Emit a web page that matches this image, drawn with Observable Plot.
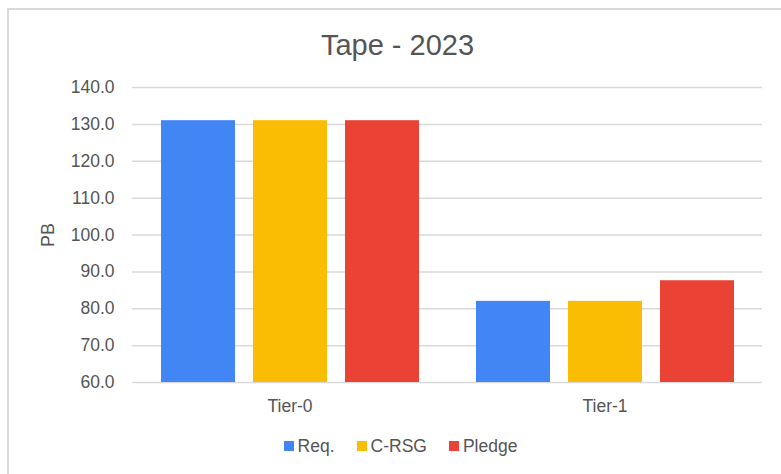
<!DOCTYPE html>
<html>
<head>
<meta charset="utf-8">
<script src="https://cdn.jsdelivr.net/npm/d3@7"></script>
<script src="https://cdn.jsdelivr.net/npm/@observablehq/plot@0.6"></script>
<style>
  html, body { margin: 0; padding: 0; background: #fff; }
  body { width: 781px; height: 474px; position: relative; overflow: hidden; font-family: "Liberation Sans", Arial, sans-serif; }
  #frame { position: absolute; left: 7px; top: 8px; width: 800px; height: 500px; border-left: 2px solid #d9d9d9; border-top: 2px solid #d9d9d9; box-sizing: border-box; }
  #title { position: absolute; left: 0; width: 795px; top: 27px; text-align: center; font-size: 29px; line-height: 36px; color: #555; }
  #ylabel { position: absolute; left: 48px; top: 235px; transform: translate(-50%, -50%) rotate(-90deg); font-size: 18px; color: #555; white-space: nowrap; }
  #chart { position: absolute; left: 0; top: 70px; }
  #legend { position: absolute; left: 0; width: 801px; top: 435px; display: flex; justify-content: center; gap: 22px; font-size: 17.5px; line-height: 22px; color: #555; }
  .item { display: flex; align-items: center; gap: 4px; }
  .sw { width: 10px; height: 10px; display: inline-block; }
</style>
</head>
<body>
<div id="frame"></div>
<div id="title">Tape - 2023</div>
<div id="ylabel">PB</div>
<div id="chart"></div>
<div id="legend"></div>
<script>
const tiers = ["Tier-0", "Tier-1"];
const series = ["Req.", "C-RSG", "Pledge"];
const reqValues = [131, 82];
const crsgValues = [131, 82];
const pledgeValues = [131, 87.6];
const colors = ["#4285F4", "#FBBC04", "#EA4335"];
const yTicks = [60, 70, 80, 90, 100, 110, 120, 130, 140];

const valuesBySeries = [reqValues, crsgValues, pledgeValues];
const data = [];
tiers.forEach((t, i) => series.forEach((s, j) => data.push({tier: t, series: s, value: valuesBySeries[j][i]})));

const chart = Plot.plot({
  width: 781,
  height: 350,
  marginTop: 17,
  marginBottom: 38,
  marginLeft: 132,
  marginRight: 19,
  style: {fontFamily: "Liberation Sans, Arial, sans-serif", fontSize: "17.5px", color: "#555", background: "transparent"},
  fx: {domain: tiers, padding: 0, label: null, tickSize: 0, tickPadding: 17},
  x: {domain: series, paddingInner: 0.2, paddingOuter: 0.3, axis: null},
  y: {domain: [60, 140], ticks: yTicks, tickFormat: d3.format(".1f"), tickSize: 0, tickPadding: 18,
      grid: false, label: null},
  color: {domain: series, range: colors},
  marks: [
    Plot.gridY(yTicks, {stroke: "#d9d9d9", strokeOpacity: 1, strokeWidth: 1.5}),
    Plot.barY(data, {fx: "tier", x: "series", y1: 60, y2: "value", fill: "series"})
  ]
});
document.getElementById("chart").appendChild(chart);

const legend = document.getElementById("legend");
series.forEach((s, i) => {
  const it = document.createElement("div");
  it.className = "item";
  it.innerHTML = `<span class="sw" style="background:${colors[i]}"></span><span>${s}</span>`;
  legend.appendChild(it);
});
</script>
</body>
</html>
